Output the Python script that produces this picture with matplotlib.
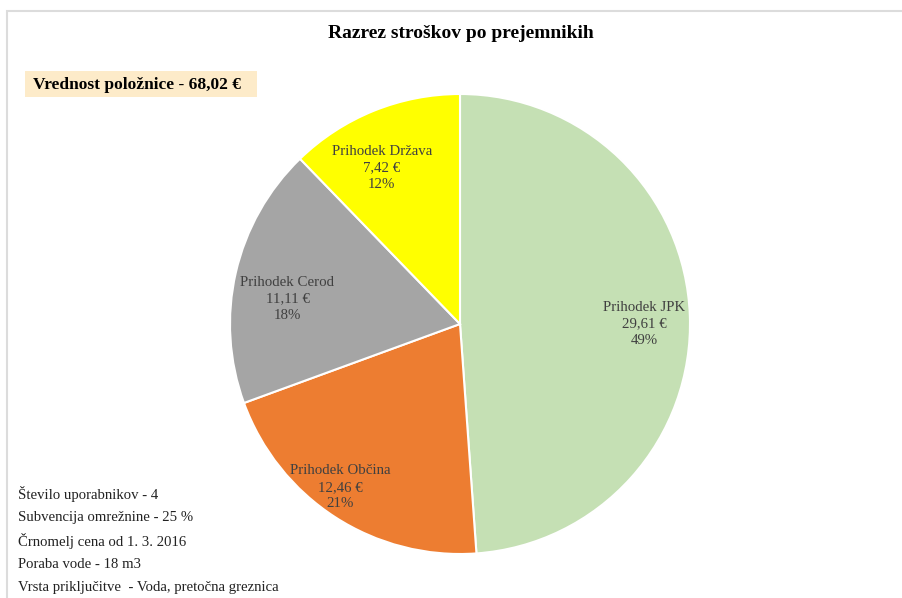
import matplotlib
matplotlib.use("Agg")
import matplotlib.pyplot as plt
from matplotlib.patches import Rectangle

# data
categories = ["Prihodek JPK", "Prihodek Občina", "Prihodek Cerod", "Prihodek Država"]
values = [29.61, 12.46, 11.11, 7.42]
colors = ["#C5E0B4", "#ED7D31", "#A5A5A5", "#FFFF00"]
total_bill = "68,02"
info_lines = [
    "Število uporabnikov - 4",
    "Subvencija omrežnine - 25 %",
    "Črnomelj cena od 1. 3. 2016",
    "Poraba vode - 18 m3",
    "Vrsta priključitve  - Voda, pretočna greznica",
]

# where the data labels sit inside the pie (in radius units)
label_xy = [(0.80, 0.0), (-0.52, -0.71), (-0.75, 0.11), (-0.34, 0.68)]

W, H = 903, 598
fig = plt.figure(figsize=(W / 100, H / 100), dpi=100)
fig.patch.set_facecolor("white")
serif = ["Liberation Serif", "DejaVu Serif"]

# chart frame (cut at right and bottom edges)
fig.add_artist(Rectangle((7 / W, -0.1), 1.2, (H - 11) / H + 0.1,
                         transform=fig.transFigure, fill=False,
                         edgecolor="#DCDCDC", linewidth=1.5))

# pie centred at (460, 324) px, radius 230 px
cx, cy, r = 460, 324, 230
ax = fig.add_axes([(cx - r) / W, (H - cy - r) / H, 2 * r / W, 2 * r / H])
ax.pie(values, colors=colors, startangle=90, counterclock=False, radius=1,
       wedgeprops=dict(edgecolor="white", linewidth=1.5))
ax.set_xlim(-1, 1)
ax.set_ylim(-1, 1)
ax.set_aspect("auto")
ax.axis("off")

tot = sum(values)
for name, v, (x, y) in zip(categories, values, label_xy):
    pct = round(v / tot * 100)
    txt = f"{name}\n{v:.2f} €\n{pct}%".replace(".", ",")
    ax.text(x, y, txt, ha="center", va="center", fontsize=10.7,
            family=serif, color="#404040", linespacing=1.35)

fig.text(461 / W, 1 - 33 / H, "Razrez stroškov po prejemnikih",
         ha="center", va="center", fontsize=14, fontweight="bold",
         family=serif, color="black")

fig.add_artist(Rectangle((25 / W, 1 - 97 / H), 232 / W, 26 / H,
                         transform=fig.transFigure, facecolor="#FDEBC9",
                         edgecolor="none"))
fig.text(33 / W, 1 - 85 / H, f"Vrednost položnice - {total_bill} €",
         ha="left", va="center", fontsize=12.5, fontweight="bold",
         family=serif, color="black")

for i, line in enumerate(info_lines):
    fig.text(18 / W, 1 - (494 + i * 23.5) / H, line, ha="left", va="center",
             fontsize=10.6, family=serif, color="#222222")

fig.savefig("out.png", dpi=100)
